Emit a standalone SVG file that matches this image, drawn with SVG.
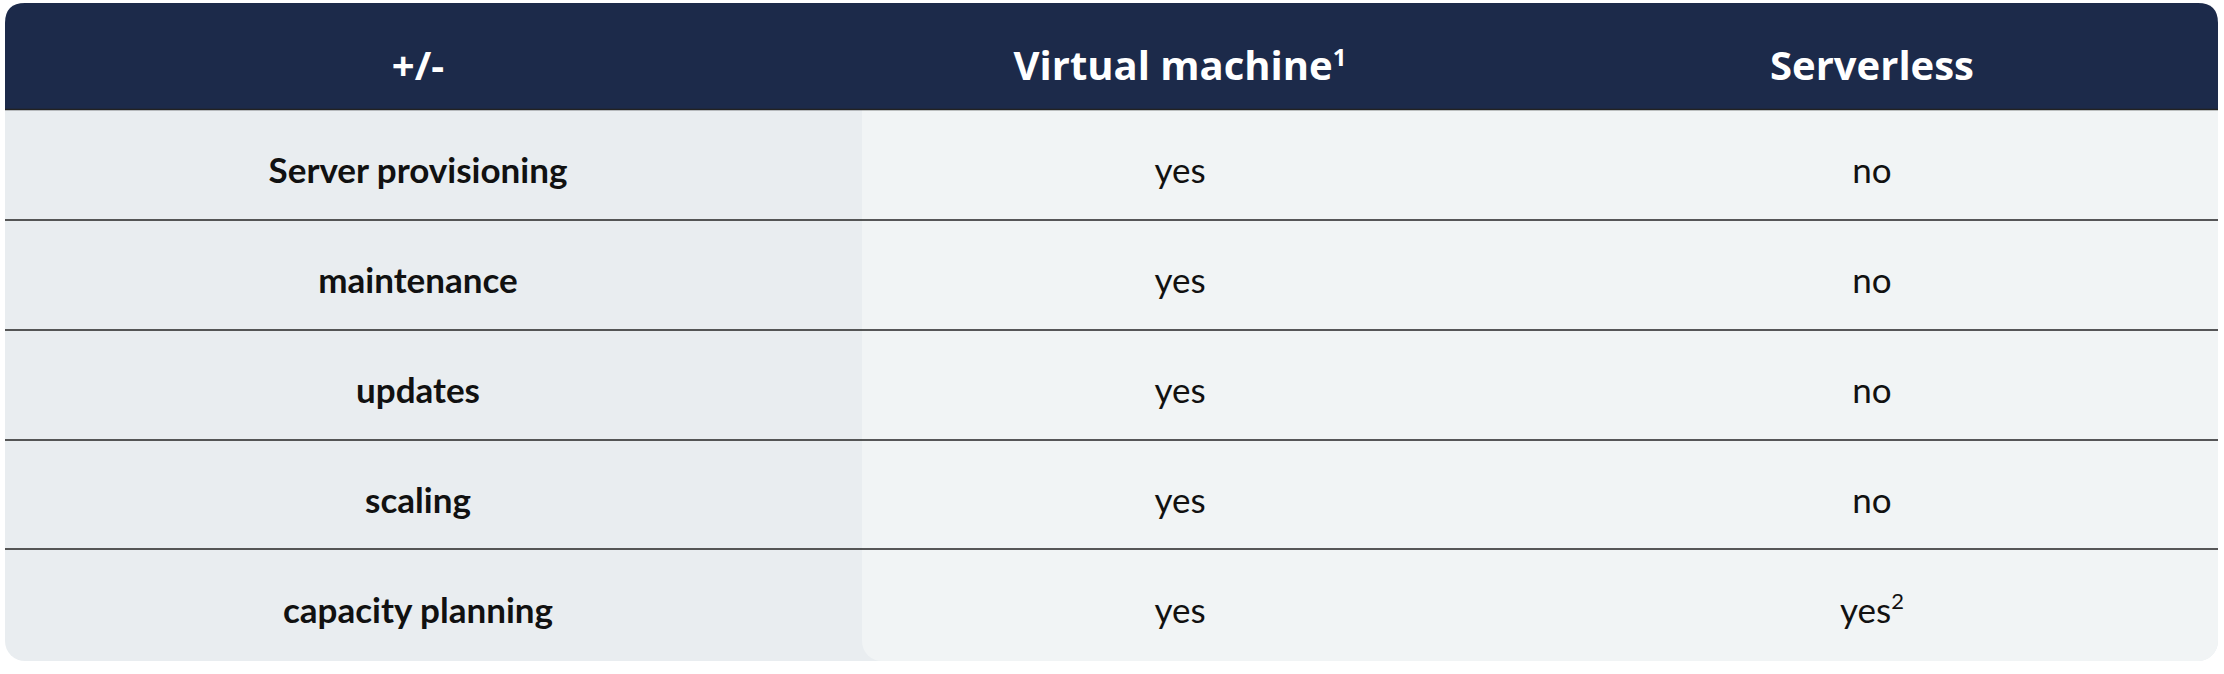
<svg xmlns="http://www.w3.org/2000/svg" width="2224" height="674" viewBox="0 0 2224 674">
<style>
.h{font-family:"Open Sans","Liberation Sans",sans-serif;font-weight:700;font-size:40px;fill:#fff;text-anchor:middle}
.l{font-family:Lato,"Liberation Sans",sans-serif;font-weight:700;font-size:35px;fill:#111;text-anchor:middle}
.v{font-family:Lato,"Liberation Sans",sans-serif;font-size:35px;fill:#111;text-anchor:middle}
.s{stroke:#222;stroke-width:1.5}
</style>
<rect width="2224" height="674" fill="#fff"/>
<g id="table">
<rect x="5" y="3" width="2213" height="658" rx="20" fill="#E9EDF0"/>
<rect x="862" y="109" width="1356" height="552" rx="20" fill="#F1F4F5"/>
<rect x="862" y="109" width="1356" height="40" fill="#F1F4F5"/>
<path d="M5 109 V23 Q5 3 25 3 H2198 Q2218 3 2218 23 V109 Z" fill="#1C2A4A"/>
</g>
<g id="connectors">
<line class="s" x1="5" y1="109.5" x2="2218" y2="109.5"/>
<line class="s" x1="5" y1="220" x2="2218" y2="220"/>
<line class="s" x1="5" y1="330" x2="2218" y2="330"/>
<line class="s" x1="5" y1="440" x2="2218" y2="440"/>
<line class="s" x1="5" y1="549" x2="2218" y2="549"/>
</g>
<g id="header">
<text class="h" x="418" y="80">+/-</text>
<text class="h" x="1180" y="80">Virtual machine<tspan font-size="24" dy="-14">1</tspan></text>
<text class="h" x="1872" y="80">Serverless</text>
</g>
<g id="row1"><text class="l" x="418" y="183">Server provisioning</text><text class="v" x="1180" y="183">yes</text><text class="v" x="1872" y="183">no</text></g>
<g id="row2"><text class="l" x="418" y="293">maintenance</text><text class="v" x="1180" y="293">yes</text><text class="v" x="1872" y="293">no</text></g>
<g id="row3"><text class="l" x="418" y="403">updates</text><text class="v" x="1180" y="403">yes</text><text class="v" x="1872" y="403">no</text></g>
<g id="row4"><text class="l" x="418" y="513">scaling</text><text class="v" x="1180" y="513">yes</text><text class="v" x="1872" y="513">no</text></g>
<g id="row5"><text class="l" x="418" y="623">capacity planning</text><text class="v" x="1180" y="623">yes</text><text class="v" x="1872" y="623">yes<tspan font-size="22" dy="-14">2</tspan></text></g>
</svg>
